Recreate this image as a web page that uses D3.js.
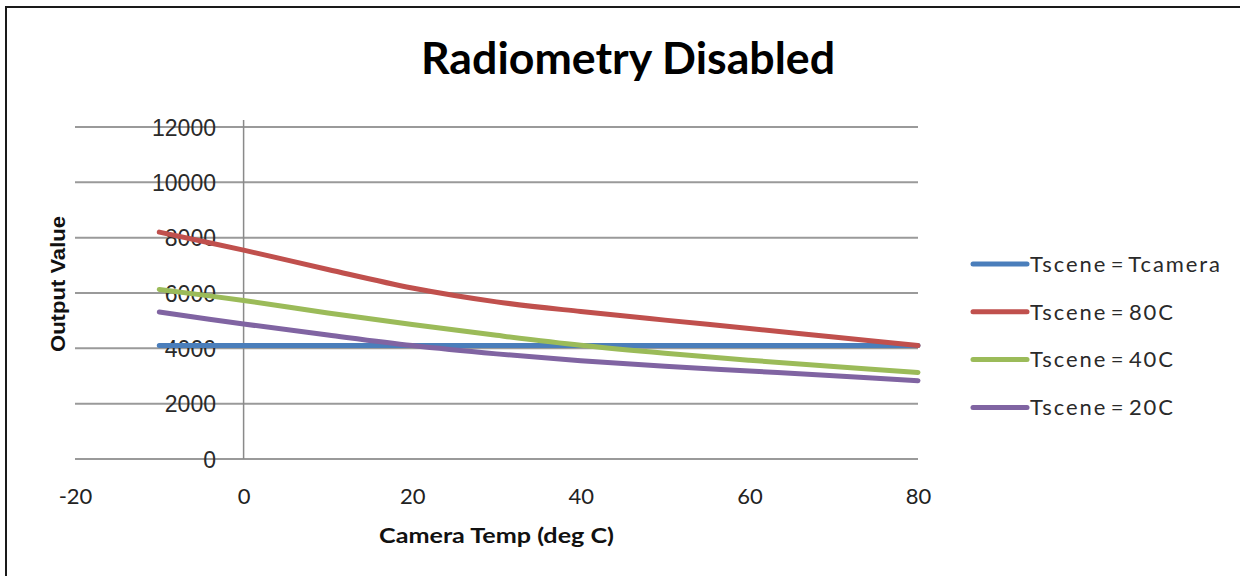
<!DOCTYPE html>
<html><head><meta charset="utf-8">
<script src="https://cdn.jsdelivr.net/npm/d3@7"></script>
<style>html,body{margin:0;padding:0;background:#fff;overflow:hidden}</style>
</head><body>
<svg id="chart" width="1240" height="576"></svg>
<script>
const temps = [-10, 0, 10, 20, 30, 40, 50, 60, 70, 80];
const tsceneTcamera = [4100, 4100, 4100, 4100, 4100, 4100, 4100, 4100, 4100, 4100];
const tscene80 = [8200, 7550, 6850, 6180, 5680, 5330, 5020, 4720, 4410, 4100];
const tscene40 = [6130, 5730, 5280, 4860, 4470, 4110, 3820, 3570, 3340, 3130];
const tscene20 = [5310, 4880, 4480, 4100, 3800, 3550, 3350, 3180, 3010, 2830];
const seriesNames = ["Tscene = Tcamera", "Tscene = 80C", "Tscene = 40C", "Tscene = 20C"];
const seriesColors = ["#4a7ebb", "#c0504d", "#9bbb59", "#8064a2"];
const xTicks = [-20, 0, 20, 40, 60, 80];
const yTicks = [0, 2000, 4000, 6000, 8000, 10000, 12000];
const title = "Radiometry Disabled";
const xTitle = "Camera Temp (deg C)";
const yTitle = "Output Value";

const allSeries = [tsceneTcamera, tscene80, tscene40, tscene20];
const svg = d3.select("#chart");

// frame
svg.append("rect").attr("x", 6).attr("y", 7).attr("width", 1260).attr("height", 600)
  .attr("fill", "none").attr("stroke", "#1a1a1a").attr("stroke-width", 2);

const x = d3.scaleLinear().domain([-20, 80]).range([75, 918]);
const y = d3.scaleLinear().domain([0, 12000]).range([459, 127]);

// gridlines
svg.append("g").selectAll("line").data(yTicks).join("line")
  .attr("x1", x(-20)).attr("x2", x(80))
  .attr("y1", d => y(d)).attr("y2", d => y(d))
  .attr("stroke", "#9a9a9a").attr("stroke-width", 2);

// vertical axis at x = 0
svg.append("line").attr("x1", x(0)).attr("x2", x(0))
  .attr("y1", y(12000) - 7).attr("y2", y(0))
  .attr("stroke", "#8a8a8a").attr("stroke-width", 1.5);

// y tick labels
const yAxis = d3.axisLeft(y).tickValues(yTicks).tickSize(0).tickPadding(0).tickFormat(d => String(d));
const gy = svg.append("g").attr("transform", `translate(216,0)`).call(yAxis);
gy.select(".domain").remove();
gy.selectAll("text").attr("font-family", "Liberation Sans, Arial, sans-serif")
  .attr("font-size", 23).attr("fill", "#2a2a2a").attr("dy", "0.35em").attr("x", 0);

// x tick labels
const xAxis = d3.axisBottom(x).tickValues(xTicks).tickSize(0).tickPadding(0).tickFormat(d => String(d));
const gx = svg.append("g").attr("transform", `translate(0,496)`).call(xAxis);
gx.select(".domain").remove();
gx.selectAll("text").attr("font-family", "Lato, sans-serif").attr("font-size", 22)
  .attr("fill", "#222").attr("dy", "0.35em").attr("y", 0);

// lines
const line = d3.line().x((d, i) => x(temps[i])).y(d => y(d)).curve(d3.curveCatmullRom.alpha(0.5));
svg.append("g").selectAll("path").data(allSeries).join("path")
  .attr("d", d => line(d)).attr("fill", "none")
  .attr("stroke", (d, i) => seriesColors[i]).attr("stroke-width", 5)
  .attr("stroke-linecap", "round").attr("stroke-linejoin", "round");

// title
svg.append("text").attr("x", 628).attr("y", 74).attr("text-anchor", "middle")
  .attr("font-family", "Lato, sans-serif").attr("font-weight", "bold").attr("font-size", 44)
  .attr("fill", "#000").attr("textLength", 414).attr("lengthAdjust", "spacingAndGlyphs").text(title);

// x title
svg.append("text").attr("x", 496.5).attr("y", 543).attr("text-anchor", "middle")
  .attr("font-family", "Lato, sans-serif").attr("font-weight", "bold").attr("font-size", 21)
  .attr("fill", "#111").attr("textLength", 235).attr("lengthAdjust", "spacingAndGlyphs").text(xTitle);

// y title
svg.append("text").attr("transform", "translate(65,284) rotate(-90)").attr("text-anchor", "middle")
  .attr("font-family", "Liberation Sans, Arial, sans-serif").attr("font-weight", "bold").attr("font-size", 21)
  .attr("fill", "#111").attr("textLength", 136).attr("lengthAdjust", "spacingAndGlyphs").text(yTitle);

// legend
const leg = svg.append("g").selectAll("g").data(seriesNames).join("g")
  .attr("transform", (d, i) => `translate(973,${264 + i * 47.8})`);
leg.append("line").attr("x1", 0).attr("x2", 54).attr("y1", 0).attr("y2", 0)
  .attr("stroke", (d, i) => seriesColors[i]).attr("stroke-width", 5).attr("stroke-linecap", "round");
leg.append("text").attr("x", 57).attr("y", 0).attr("dy", "0.35em")
  .attr("font-family", "Lato, sans-serif").attr("font-size", 22).attr("fill", "#2a2a2a")
  .attr("letter-spacing", 1.9).attr("word-spacing", -4).text(d => d);
</script>
</body></html>
